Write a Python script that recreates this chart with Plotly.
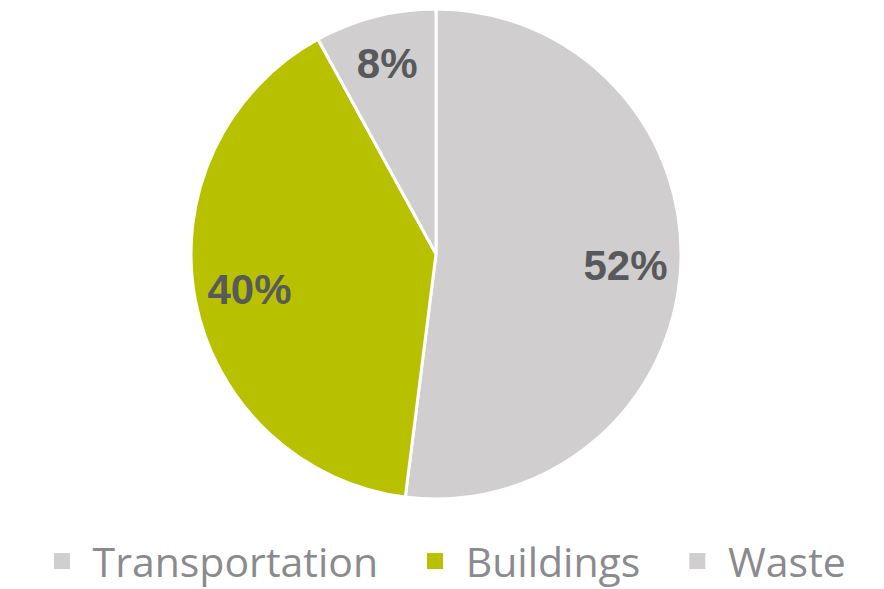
import plotly.graph_objects as go

categories = ["Transportation", "Buildings", "Waste"]
values = [52, 40, 8]
colors = ["#D0CECE", "#B8C100", "#D0CECE"]

domain = dict(x=[190/884, 682/884], y=[90/589, 580/589])

fig = go.Figure()

# filled slices
fig.add_trace(go.Pie(
    labels=categories,
    values=values,
    sort=False,
    direction="clockwise",
    rotation=0,
    marker=dict(colors=colors, line=dict(color="white", width=3)),
    textinfo="none",
    domain=domain,
    showlegend=False,
    hoverinfo="label+percent",
))

# transparent ring carrying the percentage labels further out
fig.add_trace(go.Pie(
    labels=categories,
    values=values,
    sort=False,
    direction="clockwise",
    rotation=0,
    hole=0.55,
    marker=dict(colors=["rgba(0,0,0,0)"] * len(values), line=dict(width=0)),
    texttemplate="%{percent:.0%}",
    textposition="inside",
    insidetextorientation="horizontal",
    textfont=dict(family="Liberation Sans", size=42, color="#58595B", weight="bold"),
    domain=domain,
    showlegend=False,
    hoverinfo="skip",
))

# legend entries
NB = "\u00a0"
for i, (name, col) in enumerate(zip(categories, colors)):
    trail = NB * 3 if i < len(categories) - 1 else ""
    fig.add_trace(go.Scatter(
        x=[None], y=[None], mode="markers", name=NB + name + trail,
        marker=dict(symbol="square", size=22, color=col),
        showlegend=True,
    ))

fig.update_layout(
    width=884, height=589,
    margin=dict(l=0, r=0, t=0, b=0, autoexpand=False),
    paper_bgcolor="white",
    plot_bgcolor="white",
    xaxis=dict(visible=False),
    yaxis=dict(visible=False),
    legend=dict(
        orientation="h",
        x=0.505, xanchor="center",
        y=-0.010, yanchor="bottom",
        font=dict(family="Open Sans", size=41, color="#8A8A8F"),
        itemsizing="trace",
        traceorder="normal",
    ),
)

fig.write_html("out.html", config={"displayModeBar": False},
               post_script="document.body.style.margin='0';")
